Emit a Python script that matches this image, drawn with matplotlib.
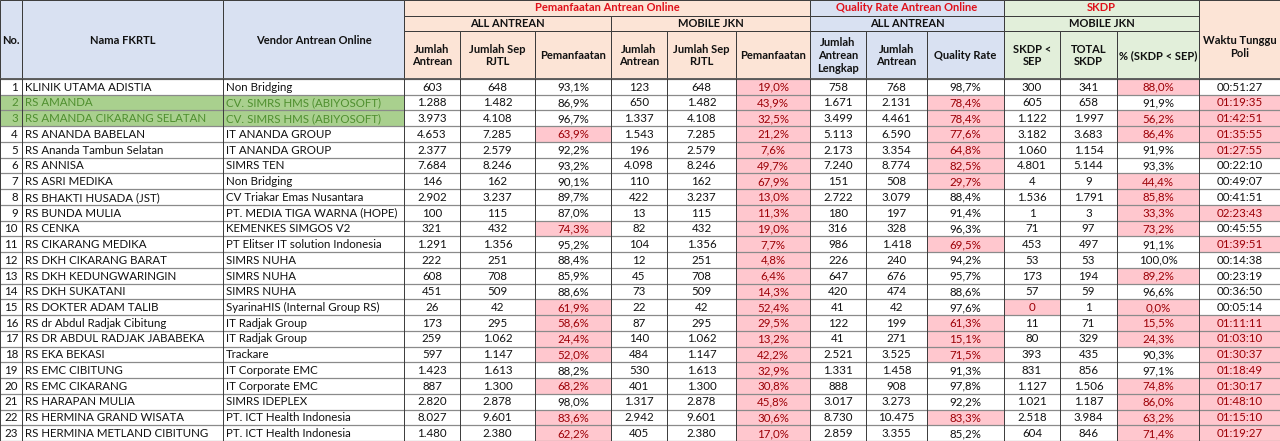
import matplotlib
matplotlib.use("Agg")
import matplotlib.pyplot as plt
from matplotlib.patches import Rectangle

plt.rcParams['font.family'] = ['Lato', 'DejaVu Sans']

no = list(range(1, 24))
nama = ["KLINIK UTAMA ADISTIA", "RS AMANDA", "RS AMANDA CIKARANG SELATAN", "RS ANANDA BABELAN",
        "RS Ananda Tambun Selatan", "RS ANNISA", "RS ASRI MEDIKA", "RS BHAKTI HUSADA (JST)",
        "RS BUNDA MULIA", "RS CENKA", "RS CIKARANG MEDIKA", "RS DKH CIKARANG BARAT",
        "RS DKH KEDUNGWARINGIN", "RS DKH SUKATANI", "RS DOKTER ADAM TALIB",
        "RS dr Abdul Radjak Cibitung", "RS DR ABDUL RADJAK JABABEKA", "RS EKA BEKASI",
        "RS EMC CIBITUNG", "RS EMC CIKARANG", "RS HARAPAN MULIA", "RS HERMINA GRAND WISATA",
        "RS HERMINA METLAND CIBITUNG"]
vendor = ["Non Bridging", "CV. SIMRS HMS (ABIYOSOFT)", "CV. SIMRS HMS (ABIYOSOFT)", "IT ANANDA GROUP",
          "IT ANANDA GROUP", "SIMRS TEN", "Non Bridging", "CV Triakar Emas Nusantara",
          "PT. MEDIA TIGA WARNA (HOPE)", "KEMENKES SIMGOS V2", "PT Elitser IT solution Indonesia",
          "SIMRS NUHA", "SIMRS NUHA", "SIMRS NUHA", "SyarinaHIS (Internal Group RS)",
          "IT Radjak Group", "IT Radjak Group", "Trackare", "IT Corporate EMC", "IT Corporate EMC",
          "SIMRS IDEPLEX", "PT. ICT Health Indonesia", "PT. ICT Health Indonesia"]
green_rows = [2, 3]

all_jumlah = [603, 1288, 3973, 4653, 2377, 7684, 146, 2902, 100, 321, 1291, 222, 608, 451, 26, 173, 259, 597, 1423, 887, 2820, 8027, 1480]
all_sep = [648, 1482, 4108, 7285, 2579, 8246, 162, 3237, 115, 432, 1356, 251, 708, 509, 42, 295, 1062, 1147, 1613, 1300, 2878, 9601, 2380]
all_pct = [93.1, 86.9, 96.7, 63.9, 92.2, 93.2, 90.1, 89.7, 87.0, 74.3, 95.2, 88.4, 85.9, 88.6, 61.9, 58.6, 24.4, 52.0, 88.2, 68.2, 98.0, 83.6, 62.2]
mob_jumlah = [123, 650, 1337, 1543, 196, 4098, 110, 422, 13, 82, 104, 12, 45, 73, 22, 87, 140, 484, 530, 401, 1317, 2942, 405]
mob_sep = [648, 1482, 4108, 7285, 2579, 8246, 162, 3237, 115, 432, 1356, 251, 708, 509, 42, 295, 1062, 1147, 1613, 1300, 2878, 9601, 2380]
mob_pct = [19.0, 43.9, 32.5, 21.2, 7.6, 49.7, 67.9, 13.0, 11.3, 19.0, 7.7, 4.8, 6.4, 14.3, 52.4, 29.5, 13.2, 42.2, 32.9, 30.8, 45.8, 30.6, 17.0]
q_lengkap = [758, 1671, 3499, 5113, 2173, 7240, 151, 2722, 180, 316, 986, 226, 647, 420, 41, 122, 41, 2521, 1331, 888, 3017, 8730, 2859]
q_jumlah = [768, 2131, 4461, 6590, 3354, 8774, 508, 3079, 197, 328, 1418, 240, 676, 474, 42, 199, 271, 3525, 1458, 908, 3273, 10475, 3355]
q_rate = [98.7, 78.4, 78.4, 77.6, 64.8, 82.5, 29.7, 88.4, 91.4, 96.3, 69.5, 94.2, 95.7, 88.6, 97.6, 61.3, 15.1, 71.5, 91.3, 97.8, 92.2, 83.3, 85.2]
skdp_lt = [300, 605, 1122, 3182, 1060, 4801, 4, 1536, 1, 71, 453, 53, 173, 57, 0, 11, 80, 393, 831, 1127, 1021, 2518, 604]
skdp_total = [341, 658, 1997, 3683, 1154, 5144, 9, 1791, 3, 97, 497, 53, 194, 59, 1, 71, 329, 435, 856, 1506, 1187, 3984, 846]
skdp_pct = [88.0, 91.9, 56.2, 86.4, 91.9, 93.3, 44.4, 85.8, 33.3, 73.2, 91.1, 100.0, 89.2, 96.6, 0.0, 15.5, 24.3, 90.3, 97.1, 74.8, 86.0, 63.2, 71.4]
waktu = ["00:51:27", "01:19:35", "01:42:51", "01:35:55", "01:27:55", "00:22:10", "00:49:07", "00:41:51",
         "02:23:43", "00:45:55", "01:39:51", "00:14:38", "00:23:19", "00:36:50", "00:05:14", "01:11:11",
         "01:03:10", "01:30:37", "01:18:49", "01:30:17", "01:48:10", "01:15:10", "01:19:27"]

W, H = 1280, 441
fig = plt.figure(figsize=(W / 100, H / 100), dpi=100)
ax = fig.add_axes([0, 0, 1, 1])
ax.set_xlim(0, W)
ax.set_ylim(H, 0)
ax.axis('off')

xe = [0, 22, 223, 404, 460, 535, 611, 667, 736, 810, 866, 927, 1004, 1060, 1117, 1199, 1280]
h1, h2, h3 = 0, 15.5, 31
top = 79
rh = (H - top) / 23.0

C_BLUE = '#D9E1F2'
C_PEACH = '#FCE4D6'
C_GREEN = '#E2EFDA'
C_BAD = '#FFC7CE'
C_BADT = '#9C0006'
C_ROWG = '#A9D08E'
C_ROWGT = '#4F8F2F'
LINE = '#3a3a3a'
FS = 8.3
FSH = 8.0


def fmt_int(v):
    return f"{v:,}".replace(",", ".")


def fmt_pct(v):
    return f"{v:.1f}".replace(".", ",") + "%"


def rect(x0, y0, x1, y1, fc, ec=LINE, lw=0.7):
    ax.add_patch(Rectangle((x0, y0), x1 - x0, y1 - y0, facecolor=fc, edgecolor=ec, lw=lw))


def txt(x, y, s, ha='center', color='#111111', bold=False, fs=FS):
    ax.text(x, y, s, ha=ha, va='center', color=color, fontsize=fs,
            fontweight='bold' if bold else 'normal', linespacing=1.22)


# ---- header ----
rect(xe[0], h1, xe[1], top, C_BLUE)
rect(xe[1], h1, xe[2], top, C_BLUE)
rect(xe[2], h1, xe[3], top, C_BLUE)
txt((xe[0] + xe[1]) / 2, 40, "No.", bold=True, fs=FSH)
txt((xe[1] + xe[2]) / 2, 40, "Nama FKRTL", bold=True, fs=FSH)
txt((xe[2] + xe[3]) / 2, 40, "Vendor Antrean Online", bold=True, fs=FSH)

groups = [(3, 9, C_PEACH, "Pemanfaatan Antrean Online"),
          (9, 12, C_BLUE, "Quality Rate Antrean Online"),
          (12, 15, C_GREEN, "SKDP")]
for a, b, c, t in groups:
    rect(xe[a], h1, xe[b], h2, c)
    txt((xe[a] + xe[b]) / 2, (h1 + h2) / 2, t, color='#E0101A', bold=True, fs=FSH)
subgroups = [(3, 6, C_PEACH, "ALL ANTREAN"), (6, 9, C_PEACH, "MOBILE JKN"),
             (9, 12, C_BLUE, "ALL ANTREAN"), (12, 15, C_GREEN, "MOBILE JKN")]
for a, b, c, t in subgroups:
    rect(xe[a], h2, xe[b], h3, c)
    txt((xe[a] + xe[b]) / 2, (h2 + h3) / 2, t, bold=True, fs=FSH)

sub = ["Jumlah\nAntrean", "Jumlah Sep\nRJTL", "Pemanfaatan", "Jumlah\nAntrean", "Jumlah Sep\nRJTL",
       "Pemanfaatan", "Jumlah\nAntrean\nLengkap", "Jumlah\nAntrean", "Quality Rate",
       "SKDP <\nSEP", "TOTAL\nSKDP", "% (SKDP < SEP)"]
sub_col = [C_PEACH] * 6 + [C_BLUE] * 3 + [C_GREEN] * 3
for i, (t, c) in enumerate(zip(sub, sub_col)):
    a = 3 + i
    rect(xe[a], h3, xe[a + 1], top, c)
    txt((xe[a] + xe[a + 1]) / 2, (h3 + top) / 2 + 0.5, t, bold=True, fs=FSH)

rect(xe[15], h1, xe[16], top, C_PEACH)
txt((xe[15] + xe[16]) / 2, 47, "Waktu Tunggu\nPoli", bold=True, fs=FSH)

# ---- body ----
for r in range(23):
    y0 = top + r * rh
    y1 = y0 + rh
    yc = (y0 + y1) / 2 + 0.3
    is_g = no[r] in green_rows
    wh = int(waktu[r][:2])
    cells = [
        (str(no[r]), 'right', C_ROWG if is_g else 'white', C_ROWGT if is_g else '#111111'),
        (nama[r], 'left', C_ROWG if is_g else 'white', C_ROWGT if is_g else '#111111'),
        (vendor[r], 'left', C_ROWG if is_g else 'white', C_ROWGT if is_g else '#111111'),
        (fmt_int(all_jumlah[r]), 'center', None, None),
        (fmt_int(all_sep[r]), 'center', None, None),
        (fmt_pct(all_pct[r]), 'center', all_pct[r] < 85, None),
        (fmt_int(mob_jumlah[r]), 'center', None, None),
        (fmt_int(mob_sep[r]), 'center', None, None),
        (fmt_pct(mob_pct[r]), 'center', mob_pct[r] < 85, None),
        (fmt_int(q_lengkap[r]), 'center', None, None),
        (fmt_int(q_jumlah[r]), 'center', None, None),
        (fmt_pct(q_rate[r]), 'center', q_rate[r] < 85, None),
        (fmt_int(skdp_lt[r]), 'center', skdp_lt[r] == 0, None),
        (fmt_int(skdp_total[r]), 'center', None, None),
        (fmt_pct(skdp_pct[r]), 'center', skdp_pct[r] < 90, None),
        (waktu[r], 'center', wh >= 1, None),
    ]
    for c, (s, ha, bg, tc) in enumerate(cells):
        x0, x1 = xe[c], xe[c + 1]
        if c < 3:
            fc, col = bg, tc
        else:
            fc = C_BAD if bg else 'white'
            col = C_BADT if bg else '#111111'
        ax.add_patch(Rectangle((x0, y0), x1 - x0, rh, facecolor=fc, edgecolor='none'))
        if ha == 'left':
            tx = x0 + 3
        elif ha == 'right':
            tx = x1 - 4
        else:
            tx = (x0 + x1) / 2
        txt(tx, yc, s, ha=ha, color=col)

# grid lines in body
for r in range(24):
    y = top + r * rh
    ax.plot([0, W], [y, y], color='#8a8a8a', lw=0.9, solid_capstyle='butt')
ax.plot([0, W], [top, top], color='#555555', lw=1.3)
for x in xe:
    ax.plot([x, x], [top, H], color=LINE, lw=0.7)
ax.plot([W - 0.5, W - 0.5], [0, H], color=LINE, lw=0.7)

fig.savefig("out.png", dpi=100)
